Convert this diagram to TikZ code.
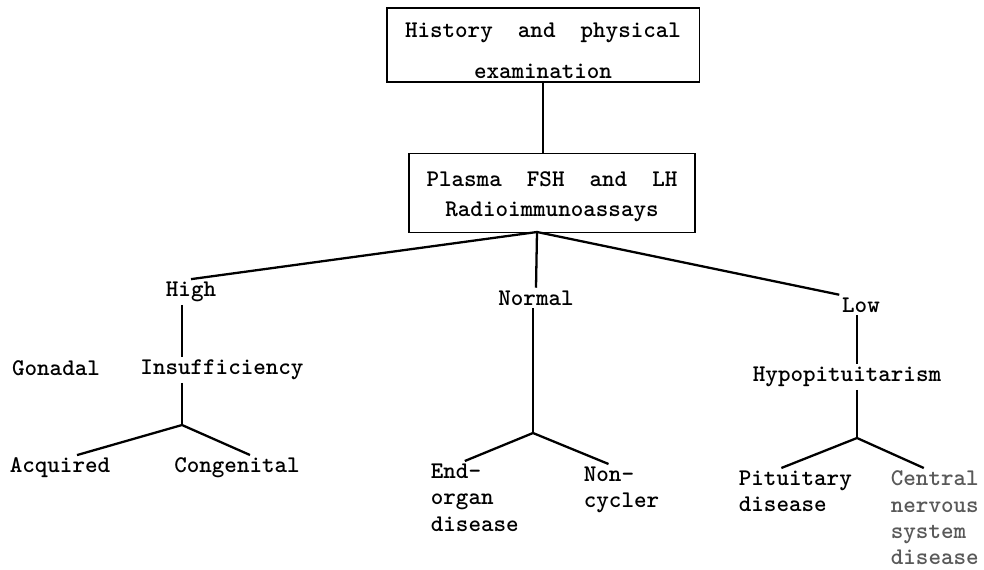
\documentclass[tikz,border=0pt]{standalone}
\usepackage{fontspec}
\usetikzlibrary{positioning, calc}

\begin{document}
\begin{tikzpicture}[x=0.02cm, y=-0.02cm, line width=1.3pt,
    word/.style={font=\ttfamily\bfseries\fontsize{13.6}{15}\selectfont, inner sep=1pt},
    stepbox/.style={word, draw, line width=1.1pt, align=center}]
        \useasboundingbox (0,0) rectangle (984,569);
        % Boxes at the top
        \node [stepbox, minimum width=6.26cm, minimum height=1.48cm] (hist) at (543,45) {\rule{0pt}{15pt}History\ \ and\ \ physical\\[8pt]examination};
        \node [stepbox, minimum width=5.72cm, minimum height=1.58cm] (ras) at (552,193) {\rule{0pt}{13pt}Plasma\ \ FSH\ \ and\ \ LH\\[2pt]Radioimmunoassays};
        \draw (hist.south) -- (hist.south |- ras.north);
        \coordinate (fan) at (537,232);
        % Levels
        \node [word] (high) at (191,292) {High};
        \node [word] (normal) at (536,298) {Normal};
        \node [word] (low) at (861,305) {Low};
        \draw (fan) -- (high.north);
        \draw (fan) -- (normal.north);
        \draw (fan) -- (low.north west);
        % High
        \node [word] (gonadal) at (56,368) {Gonadal};
        \node [word] (insuf) at (222,370) {Insufficiency};
        \coordinate (hfork) at (182,425);
        \node [word] (acq) at (60,468) {Acquired};
        \node [word] (cong) at (237,468) {Congenital};
        \draw (high.south -| hfork) -- (insuf.north -| hfork);
        \draw (insuf.south -| hfork) -- (hfork);
        \draw ($(acq.north)+(17,0)$) -- (hfork) -- ($(cong.north)+(13,0)$);
        % Normal
        \coordinate (nfork) at (533,433);
        \node [word, align=left, anchor=north west] (endorg) at (428,461) {End-\\organ\\disease};
        \node [word, align=left, anchor=north west] (noncyc) at (581,464) {Non-\\cycler};
        \draw (normal.south -| nfork) -- (nfork);
        \draw ($(endorg.north)+(-10,0)$) -- (nfork) -- ($(noncyc.north)+(-13,0)$);
        % Low
        \node [word] (hypo) at (847,377) {Hypopituitarism};
        \coordinate (lfork) at (857,438);
        \node [word, align=left, anchor=north west] (pit) at (736,468) {Pituitary\\disease};
        \node [word, align=left, anchor=north west, text=black!65] (cns) at (888,468) {Central\\nervous\\system\\disease};
        \draw (low.south -| lfork) -- (hypo.north -| lfork);
        \draw (hypo.south -| lfork) -- (lfork);
        \draw ($(pit.north)+(-14,0)$) -- (lfork) -- ($(cns.north)+(-11,0)$);
    \end{tikzpicture}
\end{document}
